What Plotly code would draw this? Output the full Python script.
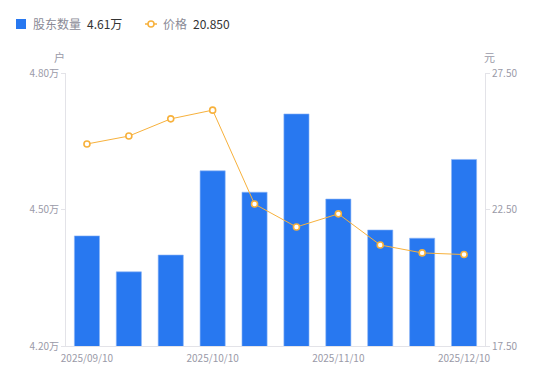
import plotly.graph_objects as go

dates = ["2025/09/10", "2025/09/20", "2025/09/30", "2025/10/10", "2025/10/20",
         "2025/10/31", "2025/11/10", "2025/11/20", "2025/11/30", "2025/12/10"]
holders = [4.442, 4.363, 4.400, 4.585, 4.538, 4.710, 4.523, 4.455, 4.437, 4.610]  # 万户
price = [24.90, 25.19, 25.82, 26.14, 22.70, 21.86, 22.34, 21.20, 20.91, 20.85]
left_ticks = [4.20, 4.50, 4.80]
left_labels = ["4.20万", "4.50万", "4.80万"]
right_ticks = [17.50, 22.50, 27.50]
right_labels = ["17.50", "22.50", "27.50"]
x_tick_dates = ["2025/09/10", "2025/10/10", "2025/11/10", "2025/12/10"]

BLUE = "#2878f0"
ORANGE = "#f7b13c"
GRAY = "#9a9aa8"
AXIS = "#e3e3e8"
FONT = "Noto Sans CJK SC, Noto Sans, sans-serif"

fig = go.Figure()
fig.add_trace(go.Bar(x=dates, y=holders, marker=dict(color=BLUE, line=dict(color="#8db6f7", width=0.6)),
                     width=0.6, yaxis="y", showlegend=False, hoverinfo="skip"))
fig.add_trace(go.Scatter(x=dates, y=price, mode="lines+markers", yaxis="y2",
                         line=dict(color=ORANGE, width=1),
                         marker=dict(size=6, color="white", line=dict(color=ORANGE, width=1.6)),
                         showlegend=False, hoverinfo="skip"))

# page body has an 8px offset; plot area in page coords: x 66..485, y 73..346
fig.update_layout(
    width=550, height=381,
    margin=dict(l=58, r=73, t=65, b=43),
    paper_bgcolor="white", plot_bgcolor="white",
    font=dict(family=FONT, size=10, color=GRAY),
    xaxis=dict(type="category", range=[-0.5, len(dates) - 0.5], tickmode="array",
               tickvals=x_tick_dates, ticktext=x_tick_dates, ticklabelstandoff=3,
               showgrid=False, showline=True, linecolor=AXIS, linewidth=1, ticks="",
               tickfont=dict(size=10, color=GRAY), zeroline=False, fixedrange=True),
    yaxis=dict(range=[4.20, 4.80], tickmode="array", tickvals=left_ticks, ticktext=left_labels,
               showgrid=False, showline=True, linecolor=AXIS, linewidth=1, ticks="outside",
               ticklen=4, tickcolor=AXIS, tickfont=dict(size=10, color=GRAY), zeroline=False),
    yaxis2=dict(range=[17.50, 27.50], overlaying="y", side="right", tickmode="array",
                tickvals=right_ticks, ticktext=right_labels, showgrid=False, showline=True,
                linecolor=AXIS, linewidth=1, ticks="outside", ticklen=4, tickcolor=AXIS,
                tickfont=dict(size=10, color=GRAY), zeroline=False),
)


def px_x(px):
    return (px - 66) / 419.0


def px_y(py):
    return (346 - py) / 273.0


fig.add_annotation(x=px_x(59), y=px_y(57), xref="paper", yref="paper", text="户", showarrow=False,
                   font=dict(size=11, color=GRAY), xanchor="center", yanchor="middle")
fig.add_annotation(x=px_x(490), y=px_y(57), xref="paper", yref="paper", text="元", showarrow=False,
                   font=dict(size=11, color=GRAY), xanchor="center", yanchor="middle")

# legend
fig.add_shape(type="rect", xref="paper", yref="paper", x0=px_x(16), x1=px_x(26),
              y0=px_y(29), y1=px_y(19), fillcolor=BLUE, line=dict(width=0))
fig.add_annotation(x=px_x(31), y=px_y(24), xref="paper", yref="paper", showarrow=False,
                   text="股东数量", font=dict(size=12, color="#8a8a96"), xanchor="left", yanchor="middle")
fig.add_annotation(x=px_x(85), y=px_y(24), xref="paper", yref="paper", showarrow=False,
                   text="4.61万", font=dict(size=12, color="#333333"), xanchor="left", yanchor="middle")
fig.add_shape(type="line", xref="paper", yref="paper", x0=px_x(145), x1=px_x(157),
              y0=px_y(24), y1=px_y(24), line=dict(color=ORANGE, width=1.5))
fig.add_shape(type="circle", xref="paper", yref="paper", x0=px_x(148), x1=px_x(154),
              y0=px_y(27), y1=px_y(21), fillcolor="white", line=dict(color=ORANGE, width=1.5))
fig.add_annotation(x=px_x(161), y=px_y(24), xref="paper", yref="paper", showarrow=False,
                   text="价格", font=dict(size=12, color="#8a8a96"), xanchor="left", yanchor="middle")
fig.add_annotation(x=px_x(191), y=px_y(24), xref="paper", yref="paper", showarrow=False,
                   text="20.850", font=dict(size=12, color="#333333"), xanchor="left", yanchor="middle")

fig.write_html("out.html")
